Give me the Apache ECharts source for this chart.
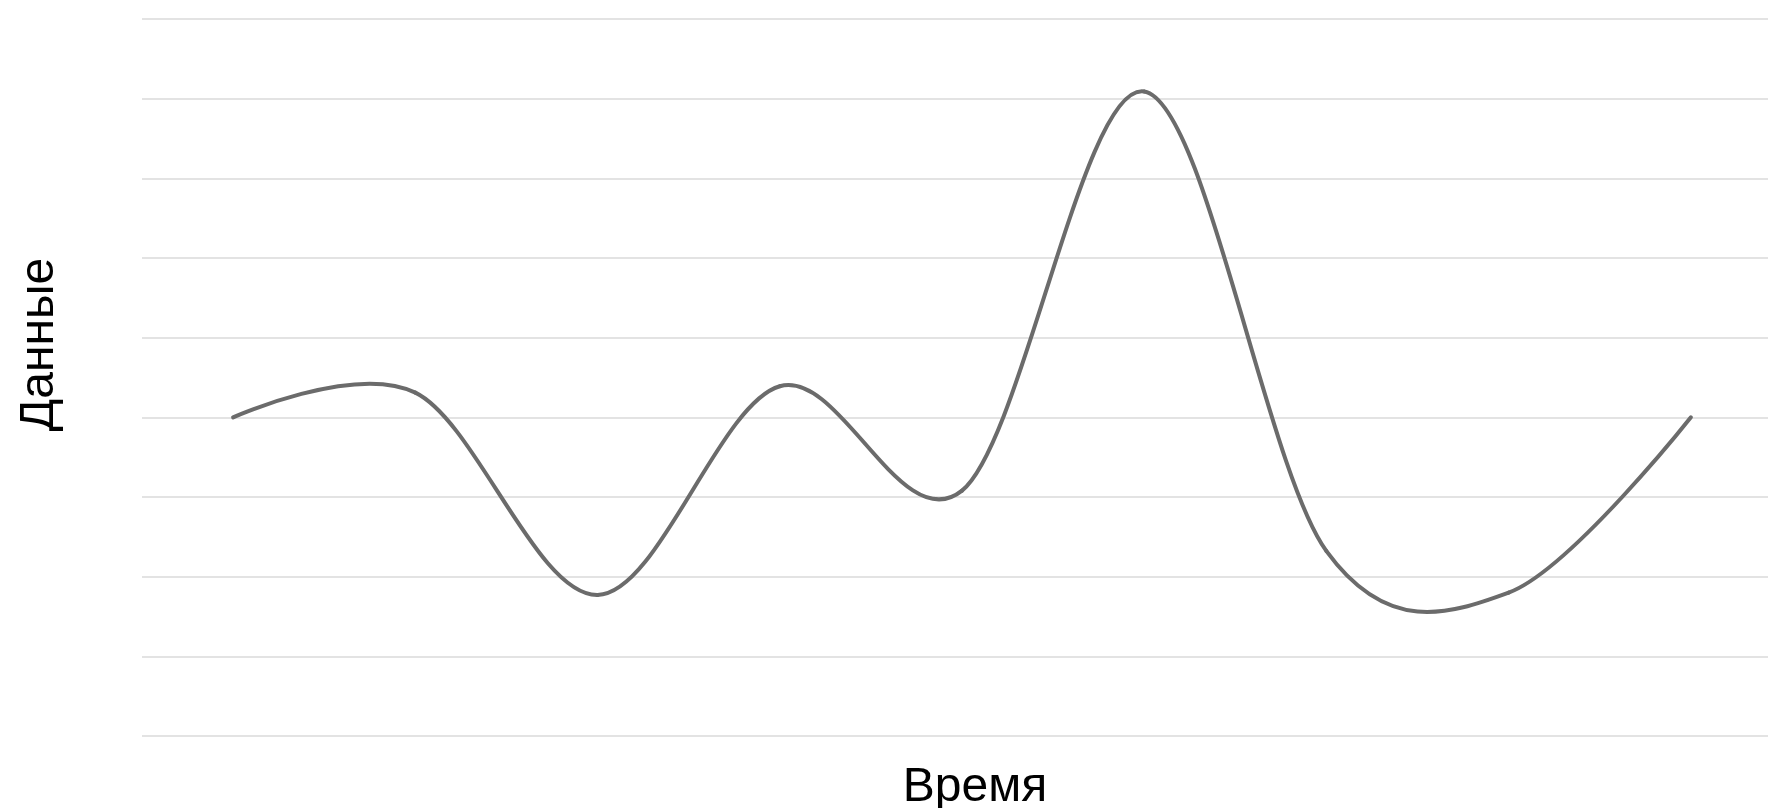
<!DOCTYPE html>
<html>
<head>
<meta charset="utf-8">
<title>Данные во времени</title>
<script src="https://cdn.jsdelivr.net/npm/echarts@6/dist/echarts.min.js"></script>
<style>
  html, body { margin: 0; padding: 0; background: #ffffff; }
  #chart { width: 1768px; height: 808px; }
</style>
</head>
<body>
<div id="chart"></div>
<script>
// Observation slots along the time axis (labels are not shown)
const categories = ['T1', 'T2', 'T3', 'T4', 'T5', 'T6', 'T7', 'T8', 'T9'];
// Measured values for each slot
const values = [4.0, 4.31, 1.77, 4.39, 3.08, 8.09, 2.32, 1.80, 4.0];
// Value axis range and step (one gridline per step)
const yMin = 0;
const yMax = 9;
const yStep = 1;

const xTitle = 'Время';
const yTitle = 'Данные';

const LINE_COLOR = '#6b6b6b';
const GRID_COLOR = '#e3e3e3';
// Cardinal spline factor: (1 - tension) / 6 with tension 0
const K = 1 / 6;

// Each data item draws the cubic segment from its point to the next one.
// Control points follow a cardinal spline through the projected points.
function renderSegment(params, api) {
  const i = params.dataIndex;
  const n = values.length;
  if (i >= n - 1) return null;
  const pt = j => api.coord([j, values[j]]);
  const a = pt(i);
  const b = pt(i + 1);
  let c1, c2;
  if (i === 0) {
    c1 = a;
  } else {
    const p = pt(i - 1);
    c1 = [a[0] + K * (b[0] - p[0]), a[1] + K * (b[1] - p[1])];
  }
  if (i + 1 === n - 1) {
    c2 = b;
  } else {
    const q = pt(i + 2);
    c2 = [b[0] - K * (q[0] - a[0]), b[1] - K * (q[1] - a[1])];
  }
  return {
    type: 'bezierCurve',
    shape: {
      x1: a[0], y1: a[1],
      cpx1: c1[0], cpy1: c1[1],
      cpx2: c2[0], cpy2: c2[1],
      x2: b[0], y2: b[1]
    },
    style: {
      stroke: LINE_COLOR,
      lineWidth: 4,
      fill: null,
      lineCap: 'round'
    }
  };
}

const chart = echarts.init(document.getElementById('chart'), null, { renderer: 'canvas' });

chart.setOption({
  animation: false,
  backgroundColor: '#ffffff',
  // The plot runs a little past the right edge of the canvas
  grid: {
    left: 142,
    right: -14,
    top: 19,
    bottom: 72,
    containLabel: false,
    outerBoundsMode: 'none'
  },
  xAxis: {
    type: 'category',
    data: categories,
    boundaryGap: true,
    name: xTitle,
    nameLocation: 'middle',
    nameGap: 28,
    nameTextStyle: {
      fontFamily: 'Liberation Sans, Arial, sans-serif',
      fontSize: 48,
      color: '#000000',
      padding: [0, 0, 0, 26]
    },
    axisLine: { show: false },
    axisTick: { show: false },
    axisLabel: { show: false },
    splitLine: { show: false }
  },
  yAxis: {
    type: 'value',
    min: yMin,
    max: yMax,
    interval: yStep,
    name: yTitle,
    nameLocation: 'middle',
    nameRotate: 90,
    nameGap: 78,
    nameTextStyle: {
      fontFamily: 'Liberation Sans, Arial, sans-serif',
      fontSize: 48,
      color: '#000000',
      padding: [0, 0, 0, 66]
    },
    axisLine: { show: false },
    axisTick: { show: false },
    axisLabel: { show: false },
    splitLine: {
      show: true,
      lineStyle: { color: GRID_COLOR, width: 2 }
    }
  },
  series: [
    {
      type: 'custom',
      name: yTitle,
      renderItem: renderSegment,
      data: values.map((v, i) => [i, v]),
      encode: { x: 0, y: 1 },
      clip: false,
      z: 3
    }
  ]
});
</script>
</body>
</html>
